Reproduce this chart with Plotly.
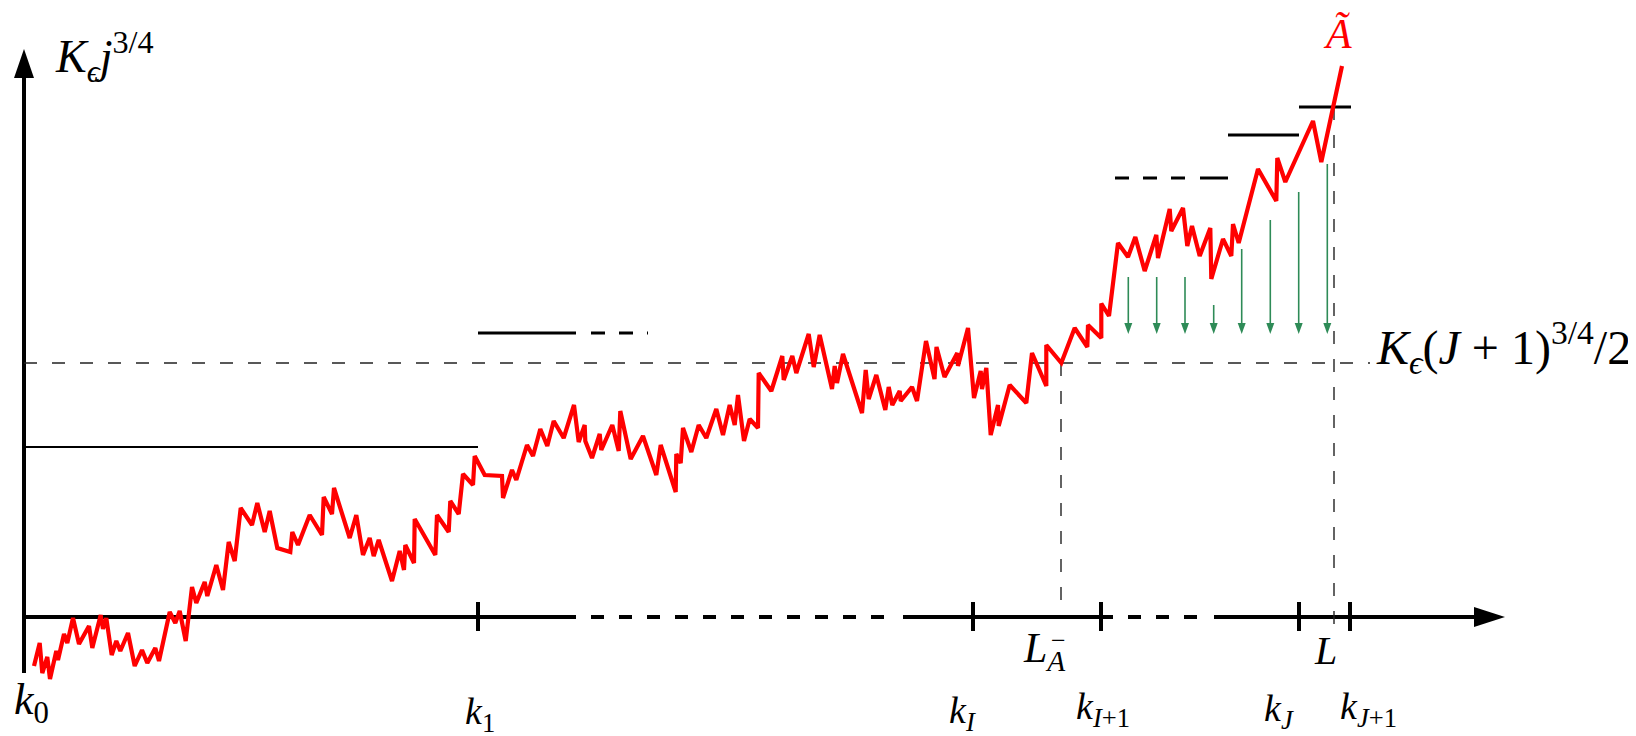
import plotly.graph_objects as go

# red path: horizontal position and height above the horizontal axis
path_x = [26, 31.7, 34.3, 39.3, 42, 48.3, 50, 56, 59.3, 65, 71, 81, 84.3, 92.7, 95, 98.3,
          103.7, 108.3, 112.3, 120, 126.7, 134, 139.3, 147.3, 151, 161.7, 167.3, 171.7,
          177.7, 184, 188.3, 196.7, 199.3, 208.3, 215, 220.7, 226.7, 232.7, 244, 249.3,
          256.7, 261.7, 269.3, 282.3, 284.3, 290, 301.7, 314, 315.7, 324, 326, 341.7,
          348.3, 355, 361.7, 365.7, 370.7, 384, 391.7, 396, 397.3, 406, 406.7, 427.3,
          429, 440.7, 442.3, 450.7, 455, 465, 466.7, 476.7, 494, 495, 504, 508.3, 519,
          525, 532.3, 539.3, 545.7, 555.7, 566, 570.7, 576.7, 577.3, 584, 591.7, 593.3,
          604.3, 610.7, 612.3, 622.7, 635, 648.3, 652.7, 667.7, 668.3, 672.7, 675, 683.3,
          690.7, 698.3, 708.3, 715, 721.7, 726.7, 730, 736, 741.7, 750, 750.7, 763.3,
          774.3, 775.7, 784.3, 788.3, 800.7, 805.7, 811.7, 824, 826.7, 829, 835, 854,
          857.7, 860.7, 868.3, 877.3, 880.7, 884.3, 891.7, 892.7, 904, 909, 918, 926.5,
          928.5, 936.5, 949.3, 950, 960, 966, 972.7, 974, 978.3, 982.7, 990, 990.7,
          1001.7, 1018.3, 1024, 1038.3, 1038.3, 1053.3, 1066.7, 1079.3, 1080, 1093.3,
          1093.3, 1101, 1110, 1120, 1127.3, 1136.7, 1148.3, 1150, 1161.7, 1163.3, 1175,
          1179.3, 1184, 1191.7, 1202.3, 1203.3, 1215, 1223.3, 1225, 1230.7, 1250, 1268.3,
          1269.3, 1277.3, 1305, 1313.3, 1334]
path_h = [-49, -26, -56, -40, -62, -34, -43, -17, -26, -1, -27, -9, -31, 2, -12, -1,
          -38, -24, -34, -16, -49, -33, -46, -31, -44, 5, -6, 6,
          -24, 30, 14, 35, 21, 52, 27, 75, 56, 109, 92, 114,
          85, 106, 69, 65, 85, 72, 102, 82, 120, 103, 129, 79,
          102, 62, 79, 61, 77, 36, 66, 47, 72, 54, 98, 62,
          102, 85, 116, 103, 143, 132, 161, 142, 141, 119, 147, 137, 172,
          161, 188, 171, 196, 179, 212, 175, 192, 176, 159, 183, 167,
          192, 166, 206, 158, 181, 142, 172, 125, 163, 154, 189, 165,
          192, 179, 208, 182, 212, 192, 222, 176, 198, 189, 244, 226,
          261, 237, 261, 244, 283, 250, 282, 228, 251, 234, 263, 204,
          247, 218, 242, 207, 230, 212, 226, 216, 230, 216, 276, 238,
          270, 240, 264, 251, 289, 219, 246, 228, 249, 182, 212, 191,
          232, 214, 264, 231, 272, 254, 289, 270, 292, 279,
          313.5, 301, 374, 360, 380, 346, 382, 359, 408, 386, 409,
          371, 391, 361, 389, 338, 378, 361, 393, 374, 448, 416,
          459, 435, 496, 455, 551]

# block boundaries on the horizontal axis
tick_x = [470, 965, 1093, 1291, 1342]
tick_labels = ["<i>k</i><sub>1</sub>", "<i>k</i><sub><i>I</i></sub>", "<i>k</i><sub><i>I</i>+1</sub>",
               "<i>k</i><sub><i>J</i></sub>", "<i>k</i><sub><i>J</i>+1</sub>"]

# level segments: start, end, height
level_solid = [(16, 470, 170), (470, 568, 284), (1192, 1220, 439), (1220, 1291, 482), (1291, 1343, 510)]
level_dashed = [(583, 640, 284), (1107, 1180, 439)]

# axis segments (solid / dashed)
axis_solid = [(16, 568), (895, 1105), (1206, 1470)]
axis_dashed = [(583, 882), (1120, 1192)]

threshold_h = 254
L_minus_x = 1053
L_x = 1326

# green arrows
arrow_x = [1120.3, 1148.7, 1177, 1205.7, 1233.7, 1262.3, 1290.7, 1319.3]
arrow_top = [340, 340, 340, 312, 368, 397, 425, 453]
arrow_tip = 283

RED = "#ff0000"
GREEN = "#2e8b57"
FONT = "Liberation Serif"

fig = go.Figure()


def seg(x0, x1, y0, y1, color="black", width=4, dash="solid"):
    fig.add_trace(go.Scatter(x=[x0, x1], y=[y0, y1], mode="lines",
                             line=dict(color=color, width=width, dash=dash), hoverinfo="skip"))


def head(tx, ty, dx, dy, length, half, color="black"):
    # filled triangle whose tip is (tx, ty), pointing along (dx, dy)
    bx, by = tx - dx * length, ty - dy * length
    px, py = -dy * half, dx * half
    fig.add_trace(go.Scatter(x=[tx, bx + px, bx - px, tx], y=[ty, by + py, by - py, ty],
                             mode="lines", fill="toself", fillcolor=color,
                             line=dict(color=color, width=0), hoverinfo="skip"))


# axes
for a, b in axis_solid:
    seg(a, b, 0, 0)
for a, b in axis_dashed:
    seg(a, b, 0, 0, dash="13px,15px")
head(1497, 0, 1, 0, 31, 10)
seg(16, 16, -56, 542)
head(16, 568, 0, 1, 29, 10)
for t in tick_x:
    seg(t, t, -14, 15)

# levels
for a, b, h in level_solid:
    seg(a, b, h, h, width=3 if h > 200 else 2.2)
for a, b, h in level_dashed:
    seg(a, b, h, h, width=3, dash="14px,14px")

# threshold and the two stopping lines
seg(16, 1362, threshold_h, threshold_h, color="#222", width=1.4, dash="13px,15px")
seg(L_minus_x, L_minus_x, threshold_h, 16, color="#222", width=1.4, dash="13px,15px")
seg(L_x, L_x, 510, -9, color="#222", width=1.4, dash="13px,15px")

# green arrows
for x, top in zip(arrow_x, arrow_top):
    seg(x, x, top, arrow_tip + 8, color=GREEN, width=1.6)
    head(x, arrow_tip, 0, -1, 11, 4, color=GREEN)

# red path
fig.add_trace(go.Scatter(x=path_x, y=path_h, mode="lines",
                         line=dict(color=RED, width=4.2), hoverinfo="skip"))

# labels
label_offsets = [(2, -97), (-11, -96), (2, -92), (-20, -94), (18, -92)]
ann = []
for t, lab, (dx, hy) in zip(tick_x, tick_labels, label_offsets):
    ann.append(dict(x=t + dx, y=hy, text=lab, font=dict(size=38)))
ann += [
    dict(x=23, y=-85, text="<i>k</i><sub>0</sub>", font=dict(size=44)),
    dict(x=45, y=561, text="<i>K</i><sub><i>ϵ</i></sub><i>j</i><sup>3/4</sup>", font=dict(size=46), xanchor="left"),
    dict(x=1329, y=583, text="<i>Ã</i>", font=dict(size=42, color=RED)),
    dict(x=1366, y=270, text="<i>K</i><sub><i>ϵ</i></sub>(<i>J</i> + 1)<sup>3/4</sup>/2",
         font=dict(size=48), xanchor="left"),
    dict(x=1036, y=-34, text="<i>L</i><sub><i>A</i></sub>", font=dict(size=42)),
    dict(x=1050, y=-23, text="−", font=dict(size=26)),
    dict(x=1317, y=-33, text="<i>L</i>", font=dict(size=40)),
]
for a in ann:
    a.setdefault("xanchor", "center")
    a.update(xref="x", yref="y", showarrow=False, yanchor="middle")
    a["font"] = dict(family=FONT, color=a["font"].get("color", "black"), size=a["font"]["size"])

fig.update_layout(
    width=1636, height=736,
    margin=dict(l=0, r=0, t=0, b=0, pad=0),
    paper_bgcolor="white", plot_bgcolor="white",
    showlegend=False,
    xaxis=dict(range=[0, 1636], visible=False, fixedrange=True),
    yaxis=dict(range=[-127, 609], visible=False, fixedrange=True),
    annotations=ann,
)

fig.write_html("out.html")
